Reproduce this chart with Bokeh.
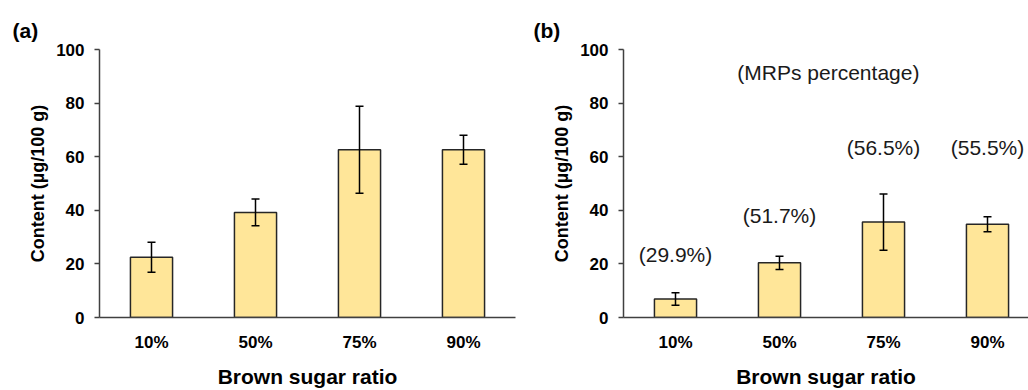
from bokeh.plotting import figure
from bokeh.models import Range1d, FixedTicker, ColumnDataSource, Whisker, TeeHead
from bokeh.layouts import row
from bokeh.embed import file_html
from bokeh.resources import INLINE
from bokeh.core.properties import value

categories = ["10%", "50%", "75%", "90%"]
content_a = [22.5, 39.2, 62.6, 62.6]
err_a = [5.6, 5.0, 16.2, 5.4]
content_b = [6.9, 20.4, 35.6, 34.8]
err_b = [2.3, 2.5, 10.5, 2.8]
pct_labels = ["(29.9%)", "(51.7%)", "(56.5%)", "(55.5%)"]
pct_label_y = [23.5, 38.0, 63.6, 63.6]
y_ticks = [0, 20, 40, 60, 80, 100]

FONT = "Liberation Sans"
BAR_FILL = "#FFE699"
DARK = "#262626"
FIG_H = 390
TOP = 49
BOTTOM = 71


def make_panel(values, errs, panel_label, x_end, width, border_left, border_right, label_offset):
    xs = [i + 0.5 for i in range(len(categories))]
    src = ColumnDataSource(dict(
        x=xs, top=values,
        upper=[v + e for v, e in zip(values, errs)],
        lower=[v - e for v, e in zip(values, errs)],
    ))
    p = figure(width=width, height=FIG_H, x_range=Range1d(0, x_end), y_range=Range1d(0, 100),
               output_backend="svg", toolbar_location=None,
               min_border_left=border_left, min_border_right=border_right,
               min_border_top=TOP, min_border_bottom=BOTTOM,
               title=panel_label)
    p.outline_line_color = None
    p.xgrid.grid_line_color = None
    p.ygrid.grid_line_color = None
    p.background_fill_color = "white"

    p.title.align = "left"
    p.title.offset = label_offset
    p.title.text_font = FONT
    p.title.text_font_style = "bold"
    p.title.text_font_size = "21px"
    p.title.text_color = "black"
    p.title.standoff = 16

    p.vbar(x="x", top="top", width=0.405, bottom=0, source=src,
           fill_color=BAR_FILL, line_color=DARK, line_width=1.5)
    w = Whisker(base="x", upper="upper", lower="lower", source=src,
                line_color="black", line_width=1.5, level="overlay",
                upper_head=TeeHead(size=8, line_color="black", line_width=1.5),
                lower_head=TeeHead(size=8, line_color="black", line_width=1.5))
    p.add_layout(w)

    # x axis
    xa = p.xaxis[0]
    xa.ticker = FixedTicker(ticks=xs)
    xa.major_label_overrides = {x: c for x, c in zip(xs, categories)}
    xa.major_tick_line_color = None
    xa.minor_tick_line_color = None
    xa.major_tick_out = 0
    xa.major_tick_in = 0
    xa.axis_line_color = "#404040"
    xa.axis_line_width = 1.5
    xa.major_label_text_font = FONT
    xa.major_label_text_font_style = "bold"
    xa.major_label_text_font_size = "17px"
    xa.major_label_text_color = "black"
    xa.major_label_standoff = 15
    xa.axis_label = "Brown sugar ratio"
    xa.axis_label_text_font = FONT
    xa.axis_label_text_font_style = "bold"
    xa.axis_label_text_font_size = "21px"
    xa.axis_label_text_color = "black"
    xa.axis_label_standoff = 10

    # y axis
    ya = p.yaxis[0]
    ya.ticker = FixedTicker(ticks=y_ticks)
    ya.major_tick_out = 5
    ya.major_tick_in = 0
    ya.major_tick_line_color = "#404040"
    ya.major_tick_line_width = 1.5
    ya.minor_tick_line_color = None
    ya.axis_line_color = "#404040"
    ya.axis_line_width = 1.5
    ya.major_label_text_font = FONT
    ya.major_label_text_font_style = "bold"
    ya.major_label_text_font_size = "17px"
    ya.major_label_text_color = "black"
    ya.major_label_standoff = 10
    ya.axis_label = "Content (µg/100 g)"
    ya.axis_label_text_font = FONT
    ya.axis_label_text_font_style = "bold"
    ya.axis_label_text_font_size = "18px"
    ya.axis_label_text_color = "black"
    ya.axis_label_standoff = 5
    return p, xs


pa, xs = make_panel(content_a, err_a, "(a)", 4.0, 520, 99, 5, -87)
pb, _ = make_panel(content_b, err_b, "(b)", 405 / 104, 508, 103, 0, -90)

tsrc = ColumnDataSource(dict(x=xs, y=pct_label_y, t=pct_labels))
pb.text(x="x", y="y", text="t", source=tsrc, text_font=value(FONT), text_font_size="21px",
        text_align="center", text_baseline="middle", text_color="#1a1a1a")
pb.text(x=[1.97], y=[91.3], text=["(MRPs percentage)"], text_font=value(FONT),
        text_font_size="21px", text_align="center", text_baseline="middle", text_color="#1a1a1a")

layout = row(pa, pb)
open("out.html", "w").write(file_html(layout, INLINE))
